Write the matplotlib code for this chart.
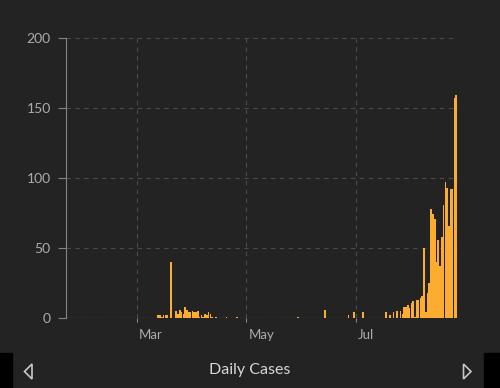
import matplotlib
matplotlib.use("Agg")
import matplotlib.pyplot as plt
import matplotlib.dates as mdates
import matplotlib.transforms as mtransforms
from matplotlib.patches import Polygon, Rectangle
import pandas as pd

# daily new cases, 22 Jan - 26 Aug 2020, one list per month
jan = [0, 0, 0, 0, 0, 0, 0, 0, 0, 0]
feb = [0, 0, 0, 0, 0, 0, 0, 0, 0, 0, 0, 0, 0, 0, 0, 0, 0, 0, 0, 0,
       0, 0, 0, 0, 0, 0, 0, 0, 0]
mar = [0, 0, 0, 0, 0, 0, 0, 0, 0, 0, 0, 0, 2, 2, 1, 2, 2, 2, 0, 40,
       0, 0, 5, 3, 6, 4, 3, 8, 6, 4, 4]
apr = [5, 4, 4, 5, 1, 2, 1, 3, 2, 4, 3, 1, 0, 1, 0, 0, 0, 0, 0, 1,
       0, 0, 0, 0, 0, 1, 0, 0, 0, 0]
may = [0, 0, 0, 0, 0, 0, 0, 0, 0, 0, 0, 0, 0, 0, 0, 0, 0, 0, 0, 0,
       0, 0, 0, 0, 0, 0, 0, 0, 0, 1, 0]
jun = [0, 0, 0, 0, 0, 0, 0, 0, 0, 0, 0, 0, 0, 6, 0, 0, 0, 0, 0, 0,
       0, 0, 0, 0, 0, 0, 2, 0, 0, 4]
jul = [0, 0, 0, 0, 4, 0, 0, 0, 0, 0, 0, 0, 0, 0, 0, 0, 0, 4, 0, 2,
       0, 4, 0, 5, 0, 5, 3, 8, 8, 9, 7]
aug = [11, 12, 1, 13, 13, 14, 16, 50, 4, 18, 25, 78, 74, 71, 40, 56,
       37, 58, 81, 97, 93, 66, 92, 92, 157, 159]

daily = jan + feb + mar + apr + may + jun + jul + aug
dates = pd.date_range("2020-01-22", periods=len(daily), freq="D")
y_ticks = [0, 50, 100, 150, 200]
title = "Daily Cases"

bg = "#232323"
bar_color = "#fcac2f"
grid_color = "#4a4a4a"
axis_color = "#858585"
label_color = "#acacac"

plt.rcParams["font.family"] = ["Lato", "DejaVu Sans"]

W, H = 500, 388
fig = plt.figure(figsize=(W / 100, H / 100), dpi=100, facecolor=bg)


def px(x, y):
    # pixel position (from top-left) -> figure fraction
    return (x / W, 1 - y / H)


ax = fig.add_axes([66 / W, 70 / H, (458.4 - 66) / W, 280 / H])
ax.set_facecolor(bg)
ax.set_axisbelow(True)

ax.bar(dates, daily, width=0.92, color=bar_color, linewidth=0, zorder=3)

ax.set_ylim(0, 200)
ax.set_yticks(y_ticks)
ax.set_xlim(dates[0] - pd.Timedelta(hours=10), dates[-1] + pd.Timedelta(hours=29))
ax.xaxis.set_major_locator(mdates.MonthLocator(bymonth=[3, 5, 7]))
ax.xaxis.set_major_formatter(mdates.DateFormatter("%b"))

ax.grid(True, color=grid_color, linestyle=(0, (4, 4)), linewidth=0.8)
ax.axhline(0, color="#9a9a9a", linestyle=(0, (2, 2)), linewidth=0.8, zorder=2)

for side in ["top", "right", "bottom"]:
    ax.spines[side].set_visible(False)
ax.spines["left"].set_color(axis_color)
ax.spines["left"].set_linewidth(0.8)

ax.tick_params(axis="y", length=6, width=0.8, pad=5, color=axis_color,
               labelcolor=label_color, labelsize=10)
ax.tick_params(axis="x", length=3, width=0.8, pad=5, color=axis_color,
               labelcolor=label_color, labelsize=9.5)
shift = mtransforms.ScaledTranslation(2.5 / 100, 0, fig.dpi_scale_trans)
for lbl in ax.get_xticklabels():
    lbl.set_ha("left")
    lbl.set_transform(lbl.get_transform() + shift)

fig.text(*px(250, 370), title, ha="center", va="center",
         color="#d6d6d6", fontsize=11.5)

# navigation arrows
fig.patches.append(Polygon([px(32, 364), px(24.5, 371.5), px(32, 379)], closed=True,
                           fill=False, edgecolor="#c8c8c8", linewidth=1.2,
                           transform=fig.transFigure))
fig.patches.append(Polygon([px(463.5, 364), px(471, 371.5), px(463.5, 379)], closed=True,
                           fill=False, edgecolor="#c8c8c8", linewidth=1.2,
                           transform=fig.transFigure))

# black corners below the card
fig.patches.append(Rectangle(px(0, 388), 12 / W, 35 / H, color="black",
                             transform=fig.transFigure))
fig.patches.append(Rectangle(px(484, 388), 16 / W, 35 / H, color="black",
                             transform=fig.transFigure))

fig.savefig("out.png", dpi=100, facecolor=bg)
